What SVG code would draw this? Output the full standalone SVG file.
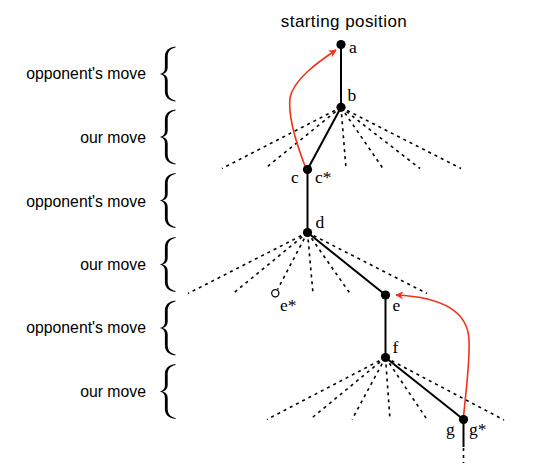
<svg xmlns="http://www.w3.org/2000/svg" width="534" height="468" viewBox="0 0 534 468">
<style>
.lbl{font-family:"Liberation Sans",Arial,sans-serif;font-size:15.8px;fill:#000;text-anchor:end}
.ttl{font-family:"Liberation Sans",Arial,sans-serif;font-size:17px;fill:#000;text-anchor:middle}
.nl{font-family:"Liberation Serif","Times New Roman",serif;font-size:17.5px;fill:#000}
.brace{fill:#000;stroke:none}
.solid{stroke:#000;stroke-width:2;fill:none}
.dot{stroke:#000;stroke-width:1.6;stroke-dasharray:3 4;fill:none}
.red{stroke:#f2331a;stroke-width:1.6;fill:none}
.node{fill:#000}
</style>
<defs>
<marker id="ah" viewBox="0 0 10 10" refX="9" refY="5" markerWidth="8" markerHeight="8" markerUnits="userSpaceOnUse" orient="auto">
<path d="M0,0 L10,5 L0,10 L3,5 z" fill="#f2331a"/>
</marker>
<path id="br" d="M16,0 C9.5,0.8 5.4,4 5.4,10 L5.4,21 C5.4,25 3.5,27 0,27.5 C3.5,28 5.4,30 5.4,34 L5.4,45 C5.4,51 9.5,54.2 16,55 L16,54 C11,52.8 8.2,50 8.2,45 L8.2,34 C8.2,30.5 6.3,28.3 3,27.5 C6.3,26.7 8.2,24.5 8.2,21 L8.2,10 C8.2,5 11,2.2 16,1 Z"/>
</defs>
<text class="ttl" x="343.8" y="26.7" textLength="126" lengthAdjust="spacing">starting position</text>
<g id="levels">
<text class="lbl" x="146" y="79.3">opponent's move</text>
<use href="#br" class="brace" x="159.5" y="46.5"/>
<text class="lbl" x="146" y="143.3">our move</text>
<use href="#br" class="brace" x="159.5" y="109.5"/>
<text class="lbl" x="146" y="206.7">opponent's move</text>
<use href="#br" class="brace" x="159.5" y="173"/>
<text class="lbl" x="146" y="270">our move</text>
<use href="#br" class="brace" x="159.5" y="237"/>
<text class="lbl" x="146" y="333.3">opponent's move</text>
<use href="#br" class="brace" x="159.5" y="300.5"/>
<text class="lbl" x="146" y="396.7">our move</text>
<use href="#br" class="brace" x="159.5" y="364"/>
</g>
<g id="connectors">
<line class="solid" x1="341" y1="44.5" x2="341" y2="107.3"/>
<line class="solid" x1="341" y1="107.3" x2="307.5" y2="169.5"/>
<line class="dot" x1="341" y1="107.3" x2="222" y2="168.5"/>
<line class="dot" x1="341" y1="107.3" x2="265" y2="168.5"/>
<line class="dot" x1="341" y1="107.3" x2="346" y2="168.5"/>
<line class="dot" x1="341" y1="107.3" x2="383" y2="168.5"/>
<line class="dot" x1="341" y1="107.3" x2="420" y2="168.5"/>
<line class="dot" x1="341" y1="107.3" x2="461" y2="168.5"/>
<line class="solid" x1="307.5" y1="169.5" x2="307.5" y2="232.5"/>
<line class="solid" x1="307.5" y1="232.5" x2="385.5" y2="295"/>
<line class="dot" x1="307.5" y1="232.5" x2="188" y2="293.5"/>
<line class="dot" x1="307.5" y1="232.5" x2="233" y2="293.5"/>
<line class="dot" x1="307.5" y1="232.5" x2="277.5" y2="289.5"/>
<line class="dot" x1="307.5" y1="232.5" x2="313" y2="293.5"/>
<line class="dot" x1="307.5" y1="232.5" x2="350" y2="293.5"/>
<line class="dot" x1="307.5" y1="232.5" x2="427" y2="293.5"/>
<line class="solid" x1="385.5" y1="295" x2="385.5" y2="357.5"/>
<line class="solid" x1="385.5" y1="357.5" x2="463.5" y2="419.5"/>
<line class="dot" x1="385.5" y1="357.5" x2="267" y2="419.5"/>
<line class="dot" x1="385.5" y1="357.5" x2="310" y2="419.5"/>
<line class="dot" x1="385.5" y1="357.5" x2="352" y2="419.5"/>
<line class="dot" x1="385.5" y1="357.5" x2="390" y2="419.5"/>
<line class="dot" x1="385.5" y1="357.5" x2="427" y2="419.5"/>
<line class="dot" x1="385.5" y1="357.5" x2="504" y2="420"/>
<line class="solid" x1="463.5" y1="419.5" x2="463.5" y2="447"/>
<line class="dot" x1="463.5" y1="448" x2="463.5" y2="463" stroke-dasharray="2 3"/>
<path class="red" d="M305,166 C295,140 288,115 290,98 C293,80 318,62 336,50" marker-end="url(#ah)"/>
<path class="red" d="M463.5,417 C466,390 470,362 469,340 C468,310 440,297 396,295" marker-end="url(#ah)"/>
</g>
<g id="node-a"><circle class="node" cx="341" cy="44.5" r="4.6"/><text class="nl" x="349" y="53">a</text></g>
<g id="node-b"><circle class="node" cx="341" cy="107.3" r="4.6"/><text class="nl" x="347.5" y="101">b</text></g>
<g id="node-c"><circle class="node" cx="307.5" cy="169.5" r="4.6"/><text class="nl" x="291" y="183">c</text><text class="nl" x="315" y="183">c*</text></g>
<g id="node-d"><circle class="node" cx="307.5" cy="232.5" r="4.6"/><text class="nl" x="315.5" y="228">d</text></g>
<g id="node-estar"><circle cx="275.3" cy="293.3" r="3.6" fill="#fff" stroke="#000" stroke-width="1.2"/><text class="nl" x="280" y="311">e*</text></g>
<g id="node-e"><circle class="node" cx="385.5" cy="295" r="4.6"/><text class="nl" x="392.5" y="311">e</text></g>
<g id="node-f"><circle class="node" cx="385.5" cy="357.5" r="4.6"/><text class="nl" x="392.5" y="353">f</text></g>
<g id="node-g"><circle class="node" cx="463.5" cy="419.5" r="4.6"/><text class="nl" x="446" y="435">g</text><text class="nl" x="469" y="435">g*</text></g>
</svg>
